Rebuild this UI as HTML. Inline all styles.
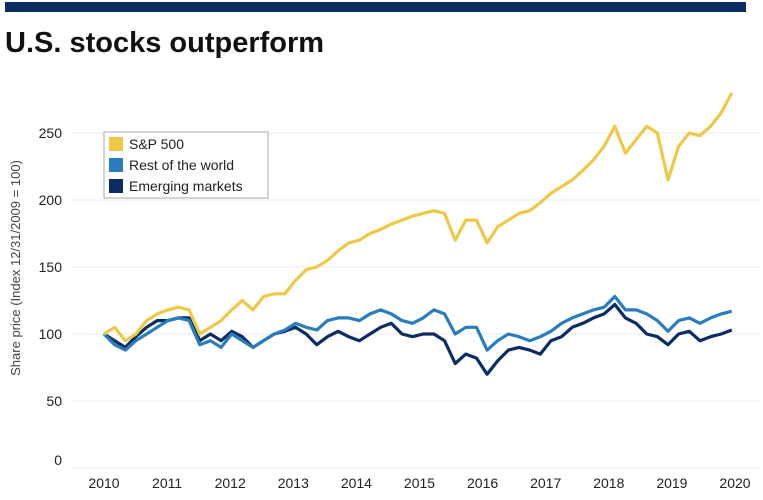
<!DOCTYPE html>
<html><head><meta charset="utf-8"><style>
body{margin:0;background:#fff;font-family:"Liberation Sans",sans-serif}
</style></head><body>
<svg width="763" height="495" xmlns="http://www.w3.org/2000/svg">
<rect x="5" y="2" width="741" height="10" fill="#0c2d63"/>
<text x="5" y="52" font-size="29" font-weight="bold" fill="#111">U.S. stocks outperform</text>
<text transform="translate(20,268) rotate(-90)" text-anchor="middle" font-size="13" fill="#444">Share price (Index 12/31/2009 = 100)</text>
<g id="grid"></g><g id="series"></g>
<g>
<rect x="104" y="132" width="164" height="66" fill="#fff" stroke="#aaa"/>
<rect x="109" y="137" width="14" height="14" fill="#eec948"/>
<text x="129" y="149" font-size="14" fill="#222">S&amp;P 500</text>
<rect x="109" y="158" width="14" height="14" fill="#2a7dbd"/>
<text x="129" y="170" font-size="14" fill="#222">Rest of the world</text>
<rect x="109" y="179" width="14" height="14" fill="#0c2d63"/>
<text x="129" y="191" font-size="14" fill="#222">Emerging markets</text>
</g>
</svg>
<script>
const yTicks=[0,50,100,150,200,250];
const xTicks=[2010,2011,2012,2013,2014,2015,2016,2017,2018,2019,2020];
const sp500=[100,105,95,100,110,115,118,120,118,100,105,110,118,125,118,128,130,130,140,148,150,155,162,168,170,175,178,182,185,188,190,192,190,170,185,185,168,180,185,190,192,198,205,210,215,222,230,240,255,235,245,255,250,215,240,250,248,255,265,280];
const restOfWorld=[100,92,88,95,100,105,110,112,110,92,95,90,100,95,90,95,100,103,108,105,103,110,112,112,110,115,118,115,110,108,112,118,115,100,105,105,88,95,100,98,95,98,102,108,112,115,118,120,128,118,118,115,110,102,110,112,108,112,115,117];
const emerging=[100,95,90,98,105,110,110,112,112,95,100,95,102,98,90,95,100,102,105,100,92,98,102,98,95,100,105,108,100,98,100,100,95,78,85,82,70,80,88,90,88,85,95,98,105,108,112,115,122,112,108,100,98,92,100,102,95,98,100,103];
const NS="http://www.w3.org/2000/svg";
const X=yr=>104+(yr-2010)*63.1;
const Y=v=>468-v*1.34;
const g=document.getElementById('grid');
yTicks.forEach(t=>{
 const l=document.createElementNS(NS,'line');
 l.setAttribute('x1',72);l.setAttribute('x2',760);l.setAttribute('y1',Y(t));l.setAttribute('y2',Y(t));
 l.setAttribute('stroke','#ebebeb');
 
 
 g.appendChild(l);
 const tx=document.createElementNS(NS,'text');
 tx.setAttribute('x',62);tx.setAttribute('y',Y(t)+5-(t===0?8:0));tx.setAttribute('text-anchor','end');
 tx.setAttribute('font-size','14');tx.setAttribute('fill','#222');tx.textContent=t;
 
 
 g.appendChild(tx);
});
xTicks.forEach(t=>{
 const tx=document.createElementNS(NS,'text');
 tx.setAttribute('x',X(t));tx.setAttribute('y',488);tx.setAttribute('text-anchor','middle');
 tx.setAttribute('font-size','14');tx.setAttribute('fill','#222');tx.textContent=t;
 
 
 g.appendChild(tx);
});
const s=document.getElementById('series');
function draw(arr,color,name){
 const n=arr.length;
 const pts=arr.map((v,i)=>X(2010+i*(9.95/(n-1))).toFixed(1)+','+Y(v).toFixed(1)).join(' ');
 const p=document.createElementNS(NS,'polyline');
 p.setAttribute('points',pts);p.setAttribute('fill','none');p.setAttribute('stroke',color);
 p.setAttribute('stroke-width','3.2');p.setAttribute('stroke-linejoin','round');
 
 
 s.appendChild(p);
}
draw(emerging,'#0c2d63','line-emerging-markets');
draw(restOfWorld,'#2a7dbd','line-rest-of-world');
draw(sp500,'#eec948','line-sp500');
</script>
</body></html>
